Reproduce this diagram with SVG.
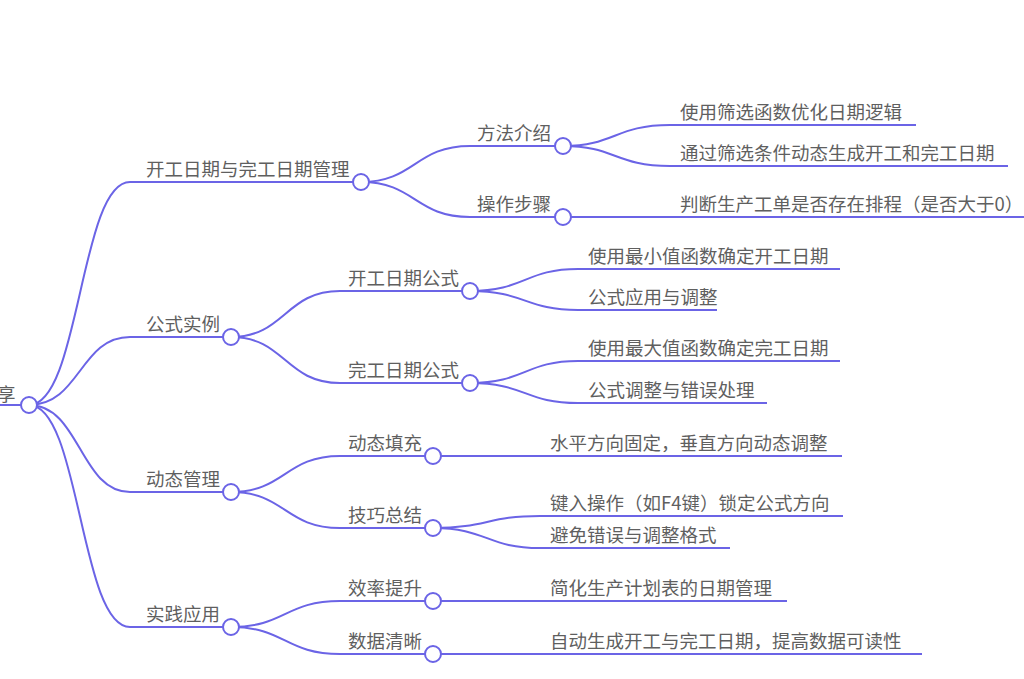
<svg xmlns="http://www.w3.org/2000/svg" width="1024" height="679" viewBox="0 0 1024 679">
<style>
.l{fill:none;stroke:#6b64e6;stroke-width:2}
.c{fill:#fff;stroke:#6b64e6;stroke-width:2}
text{font-family:"Noto Sans CJK SC","Noto Sans",sans-serif;font-size:18.5px;fill:#5f5f5f}
</style>
<rect width="1024" height="679" fill="#fff"/>
<g id="connectors">
<path class="l" d="M0 405H21"/>
<path class="l" d="M29 405C80 405 80 182 130 182H353"/>
<path class="l" d="M29 405C80 405 80 337 130 337H223"/>
<path class="l" d="M29 405C80 405 80 492 130 492H223"/>
<path class="l" d="M29 405C80 405 80 627 130 627H223"/>
<path class="l" d="M361 182C415 182 415 146 470 146H555"/>
<path class="l" d="M361 182C415 182 415 217 470 217H555"/>
<path class="l" d="M231 337C285 337 285 291 340 291H462"/>
<path class="l" d="M231 337C285 337 285 383 340 383H462"/>
<path class="l" d="M231 492C285 492 285 456 340 456H425"/>
<path class="l" d="M231 492C285 492 285 528 340 528H425"/>
<path class="l" d="M231 627C285 627 285 601 340 601H425"/>
<path class="l" d="M231 627C285 627 285 654 340 654H425"/>
<path class="l" d="M563 146C615 146 615 125 670 125H916"/>
<path class="l" d="M563 146C615 146 615 166 670 166H1008"/>
<path class="l" d="M563 217H1024"/>
<path class="l" d="M470 291C525 291 525 269 578 269H840"/>
<path class="l" d="M470 291C525 291 525 310 578 310H717"/>
<path class="l" d="M470 383C525 383 525 361 578 361H840"/>
<path class="l" d="M470 383C525 383 525 403 578 403H767"/>
<path class="l" d="M433 456H842"/>
<path class="l" d="M433 528C487 528 487 516 540 516H843"/>
<path class="l" d="M433 528C487 528 487 548 540 548H730"/>
<path class="l" d="M433 601H787"/>
<path class="l" d="M433 654H922"/>
</g>
<g id="root"><text x="-3" y="401">享</text><circle class="c" cx="29" cy="405" r="8"/></g>
<g id="n1"><text x="146" y="176">开工日期与完工日期管理</text><circle class="c" cx="361" cy="182" r="8"/></g>
<g id="n2"><text x="146" y="331">公式实例</text><circle class="c" cx="231" cy="337" r="8"/></g>
<g id="n3"><text x="146" y="486">动态管理</text><circle class="c" cx="231" cy="492" r="8"/></g>
<g id="n4"><text x="146" y="621">实践应用</text><circle class="c" cx="231" cy="627" r="8"/></g>
<g id="n11"><text x="477" y="140">方法介绍</text><circle class="c" cx="563" cy="146" r="8"/></g>
<g id="n12"><text x="477" y="211">操作步骤</text><circle class="c" cx="563" cy="217" r="8"/></g>
<g id="n21"><text x="348" y="285">开工日期公式</text><circle class="c" cx="470" cy="291" r="8"/></g>
<g id="n22"><text x="348" y="377">完工日期公式</text><circle class="c" cx="470" cy="383" r="8"/></g>
<g id="n31"><text x="348" y="450">动态填充</text><circle class="c" cx="433" cy="456" r="8"/></g>
<g id="n32"><text x="348" y="522">技巧总结</text><circle class="c" cx="433" cy="528" r="8"/></g>
<g id="n41"><text x="348" y="595">效率提升</text><circle class="c" cx="433" cy="601" r="8"/></g>
<g id="n42"><text x="348" y="648">数据清晰</text><circle class="c" cx="433" cy="654" r="8"/></g>
<g id="n111"><text x="680" y="119">使用筛选函数优化日期逻辑</text></g>
<g id="n112"><text x="680" y="160">通过筛选条件动态生成开工和完工日期</text></g>
<g id="n121"><text x="680" y="211">判断生产工单是否存在排程（是否大于0）</text></g>
<g id="n211"><text x="588" y="263">使用最小值函数确定开工日期</text></g>
<g id="n212"><text x="588" y="304">公式应用与调整</text></g>
<g id="n221"><text x="588" y="355">使用最大值函数确定完工日期</text></g>
<g id="n222"><text x="588" y="397">公式调整与错误处理</text></g>
<g id="n311"><text x="550" y="450">水平方向固定，垂直方向动态调整</text></g>
<g id="n321"><text x="550" y="510">键入操作（如F4键）锁定公式方向</text></g>
<g id="n322"><text x="550" y="542">避免错误与调整格式</text></g>
<g id="n411"><text x="550" y="595">简化生产计划表的日期管理</text></g>
<g id="n421"><text x="550" y="648">自动生成开工与完工日期，提高数据可读性</text></g>
</svg>
